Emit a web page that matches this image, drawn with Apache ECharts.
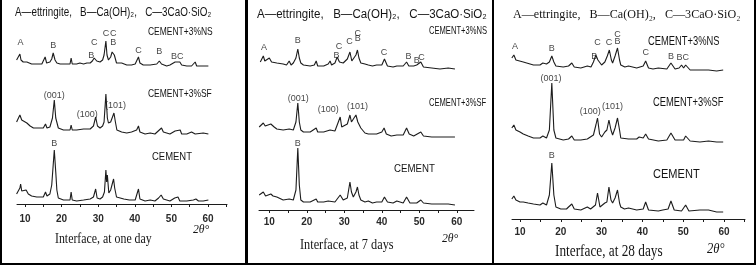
<!DOCTYPE html>
<html><head><meta charset="utf-8">
<script src="https://cdn.jsdelivr.net/npm/echarts@6/dist/echarts.min.js"></script>
<style>
html,body{margin:0;padding:0;background:#000;width:756px;height:265px;overflow:hidden}
.p{position:absolute;background:#fff;top:0;height:263px}
#c{position:absolute;left:0;top:0;width:756px;height:265px}
</style></head><body>
<div class="p" style="left:2px;width:243px"></div>
<div class="p" style="left:248px;width:244px"></div>
<div class="p" style="left:494px;width:260px"></div>
<div id="c"></div>
<script>
// ---------- tick values ----------
const tickValues = [10, 15, 20, 25, 30, 35, 40, 45, 50, 55, 60, 65];
const labelValues = [10, 20, 30, 40, 50, 60];

// ---------- Panel 1: one day  [2theta, intensity (stacked, a.u.)] ----------
const day1NS = [[7.7,144],[8.6,150],[8.9,144],[9.5,142],[10.5,142],[11.8,140],[13.2,140],[14.6,140],[15.1,141],[15.5,147],[15.9,141],[16.8,142],[17.3,145],[17.7,151],[18.2,144],[18.7,141],[19.6,140],[21.4,140],[22.3,140],[22.6,146],[22.9,140],[24.1,140],[25.0,141],[26.0,140],[26.9,141],[27.8,141],[28.4,143],[28.9,146],[29.1,148],[29.6,143],[30.5,142],[31.2,144],[31.6,149],[32.1,163],[32.4,149],[32.8,144],[33.4,147],[33.8,152],[34.1,154],[34.4,149],[35.0,141],[35.5,140],[36.4,141],[37.8,139],[39.1,139],[40.1,140],[40.6,142],[41.0,147],[41.4,141],[42.3,139],[44.2,139],[46.0,140],[46.7,143],[47.3,140],[48.7,138],[49.6,139],[51.0,142],[51.5,140],[52.3,142],[52.8,139],[54.2,138],[55.5,138],[56.5,142],[56.9,138],[58.7,138],[60.1,138]];
const day1SF = [[7.7,82],[8.6,89],[9.1,84],[10.5,81],[11.4,78],[12.3,76],[14.1,76],[15.0,76],[15.6,80],[16.0,76],[16.8,77],[17.5,86],[18.0,104],[18.4,86],[19.1,76],[20.5,74],[22.3,74],[22.6,79],[22.9,74],[24.1,74],[26.0,75],[27.8,75],[28.7,78],[29.3,87],[29.8,78],[30.5,76],[31.2,78],[31.6,82],[32.1,110],[32.5,86],[32.8,81],[33.4,82],[34.3,91],[34.7,82],[35.1,74],[36.4,72],[37.8,71],[39.1,72],[40.5,74],[41.0,78],[41.4,72],[42.8,70],[44.2,71],[45.5,70],[46.7,74],[47.3,76],[47.8,72],[49.6,70],[51.0,73],[51.5,71],[52.4,74],[52.8,70],[54.2,70],[55.5,72],[56.5,70],[58.7,71],[60.1,70]];
const day1CEM = [[7.7,10],[8.6,16],[8.8,20],[9.1,13],[9.6,11],[10.3,14],[10.9,10],[11.8,8],[13.2,7],[15.0,7],[15.6,12],[16.0,8],[16.8,10],[17.3,19],[17.7,39],[18.0,54],[18.4,32],[18.7,14],[19.1,6],[20.5,4],[22.3,4],[22.6,12],[22.9,4],[24.1,3],[26.0,4],[27.8,5],[28.7,7],[29.3,15],[29.7,6],[30.5,5],[31.2,7],[31.7,12],[32.1,34],[32.3,22],[32.5,29],[32.9,11],[33.4,14],[33.9,21],[34.2,25],[34.5,16],[35.0,7],[36.0,6],[36.5,8],[37.0,5],[38.5,4],[40.1,4],[40.6,6],[41.0,15],[41.4,5],[42.8,3],[44.2,4],[45.5,3],[46.5,6],[47.2,9],[47.8,5],[49.6,3],[50.9,6],[51.4,4],[51.8,7],[52.3,3],[54.2,3],[56.0,4],[56.7,5],[57.4,3],[58.7,3],[60.1,4]];
const day1Marks = [[8.8,161,'A'],[17.7,158,'B'],[28.9,161,'C'],[28.1,148,'B'],[32.1,170,'C'],[34.1,170,'C'],[34.1,161,'B'],[41.0,153,'C'],[46.7,152,'B'],[51.6,147,'BC'],[18.0,108,'(001)'],[27.0,89,'(100)'],[34.7,98,'(101)'],[18.0,60,'B']];

// ---------- Panel 2: 7 days ----------
const day7NS = [[7.6,148],[8.4,154],[8.8,149],[9.3,150],[10.0,152],[10.6,148],[12.0,147],[13.7,146],[14.6,145],[15.3,149],[15.8,145],[16.4,147],[17.1,152],[17.6,161],[18.0,152],[18.4,147],[19.1,145],[20.9,144],[22.0,145],[22.5,149],[22.9,144],[24.5,144],[25.7,146],[26.2,149],[26.6,145],[27.5,147],[28.1,153],[28.7,148],[29.7,147],[30.8,151],[31.5,158],[32.0,149],[32.4,148],[33.1,155],[33.5,160],[33.9,152],[34.4,147],[35.5,146],[36.4,145],[37.5,144],[38.6,145],[40.0,145],[40.7,151],[41.5,144],[43.0,143],[44.0,144],[45.7,144],[46.6,148],[47.2,144],[48.5,144],[49.3,145],[50.4,148],[51.1,143],[53.3,142],[55.5,141],[57.7,142],[59.5,141]];
const day7SF = [[7.3,83],[8.4,87],[8.9,84],[9.3,85],[10.4,86],[11.3,83],[12.0,81],[13.7,80],[15.3,81],[16.4,80],[17.1,88],[17.6,107],[18.0,88],[18.4,80],[19.1,78],[20.9,78],[22.5,82],[22.9,78],[24.5,78],[26.2,80],[27.5,79],[28.1,85],[28.9,93],[29.3,83],[29.7,82],[30.8,86],[31.5,95],[31.9,88],[32.4,87],[33.1,95],[33.6,88],[34.4,82],[35.5,77],[36.4,76],[38.6,76],[40.0,78],[40.6,82],[41.2,76],[42.5,74],[44.0,75],[45.7,75],[46.6,82],[47.3,76],[48.5,74],[50.4,78],[51.1,74],[53.3,73],[55.5,73],[57.7,73],[59.5,73]];
const day7CEM = [[7.3,15],[8.4,18],[9.0,14],[10.4,16],[11.0,14],[12.0,13],[13.7,10],[15.3,11],[16.4,10],[17.1,20],[17.6,62],[18.0,25],[18.4,10],[19.1,8],[20.9,8],[22.5,11],[22.9,8],[24.5,8],[25.7,9],[26.2,10],[27.5,8],[28.9,15],[29.7,10],[30.8,12],[31.5,28],[31.9,18],[32.4,13],[33.1,18],[33.5,23],[33.9,15],[34.4,10],[35.5,8],[36.4,9],[37.5,7],[38.6,8],[40.0,8],[40.7,13],[41.5,8],[43.0,7],[44.0,9],[45.7,7],[46.6,13],[47.5,7],[49.3,7],[50.4,10],[51.1,7],[53.3,6],[55.5,6],[57.7,6],[59.5,5]];
const day7Marks = [[8.6,162,'A'],[17.6,169,'B'],[27.9,154,'B'],[28.6,163,'C'],[31.4,168,'C'],[33.6,176,'C'],[33.6,171,'B'],[40.6,157,'C'],[47.1,153,'B'],[49.3,149,'B'],[50.6,152,'C'],[17.7,111,'(001)'],[25.7,100,'(100)'],[33.5,103,'(101)'],[17.6,66,'B']];

// ---------- Panel 3: 28 days ----------
const day28NS = [[8.0,161],[8.5,164],[9.0,159],[10.8,157],[13.3,154],[14.9,154],[15.6,156],[16.5,155],[17.2,157],[17.8,163],[18.3,157],[18.8,153],[20.6,152],[21.9,153],[22.7,156],[23.3,152],[24.9,151],[26.5,153],[27.4,152],[28.0,157],[28.6,164],[29.1,159],[30.0,154],[30.8,157],[31.4,163],[31.9,169],[32.4,159],[32.7,156],[33.3,163],[33.9,171],[34.4,159],[34.7,154],[35.7,152],[36.6,153],[38.6,151],[40.2,153],[40.8,158],[41.5,151],[42.6,150],[43.9,151],[46.0,150],[47.0,156],[48.0,150],[49.0,151],[49.6,154],[50.1,151],[50.6,154],[51.7,149],[54.1,149],[56.2,149],[58.2,148],[59.8,149]];
const day28SF = [[8.0,91],[8.5,94],[9.0,89],[10.0,87],[10.8,85],[12.0,83],[13.3,81],[14.9,81],[15.6,83],[16.5,81],[17.2,89],[17.8,136],[18.3,89],[18.8,81],[20.6,79],[21.9,80],[22.7,83],[23.3,79],[24.9,79],[26.5,80],[28.0,84],[28.6,94],[29.0,101],[29.5,85],[30.0,82],[30.8,87],[31.3,89],[31.8,99],[32.3,89],[32.7,84],[33.3,91],[33.9,101],[34.4,89],[34.7,81],[36.6,80],[38.6,80],[39.2,82],[40.2,81],[40.8,85],[41.5,80],[43.9,78],[46.0,79],[47.0,86],[48.0,79],[50.1,79],[50.6,83],[51.7,78],[54.1,77],[56.2,78],[58.2,77],[59.8,77]];
const day28CEM = [[8.0,20],[8.5,23],[9.0,19],[10.0,17],[10.8,17],[12.0,16],[13.3,15],[14.9,14],[15.6,16],[16.5,14],[17.2,24],[17.8,56],[18.3,24],[18.8,12],[20.0,10],[21.4,10],[21.9,12],[22.3,10],[22.7,15],[23.3,10],[24.9,9],[26.5,12],[27.3,10],[28.5,14],[29.0,26],[29.6,12],[30.0,13],[30.8,16],[31.3,17],[31.8,32],[32.3,19],[32.7,16],[33.3,21],[33.9,29],[34.4,16],[34.7,12],[35.6,10],[36.6,11],[38.6,9],[40.2,10],[40.8,17],[41.5,9],[43.9,8],[45.0,9],[46.3,10],[47.0,18],[47.8,9],[49.6,8],[50.6,14],[51.4,8],[54.1,9],[56.2,9],[58.2,7],[59.8,7]];
const day28Marks = [[8.8,172,'A'],[17.8,170,'B'],[28.2,162,'B'],[29.0,176,'C'],[31.8,176,'C'],[33.9,184,'C'],[33.9,177,'B'],[40.8,166,'C'],[47.0,162,'B'],[49.9,161,'BC'],[17.6,140,'(001)'],[27.2,107,'(100)'],[32.7,112,'(101)'],[17.8,63,'B']];

const panels = [
  {grid:{left:17, top:4, width:210, height:200}, min:7.81, max:65.19, margin:10, lines:[day1NS, day1SF, day1CEM], marks:day1Marks},
  {grid:{left:259, top:10, width:215, height:200}, min:7.25, max:64.58, margin:7, lines:[day7NS, day7SF, day7CEM], marks:day7Marks},
  {grid:{left:512, top:19, width:233, height:200}, min:8.04, max:65.15, margin:8, lines:[day28NS, day28SF, day28CEM], marks:day28Marks}
];

const ink = '#1c1c1c';
const grids = [], xAxes = [], yAxes = [], series = [];
panels.forEach((p, i) => {
  grids.push(p.grid);
  xAxes.push({type:'value', gridIndex:i, min:p.min, max:p.max,
    axisLine:{show:true, lineStyle:{color:ink, width:1}},
    axisTick:{show:true, customValues:tickValues, length:3, lineStyle:{color:ink}},
    axisLabel:{customValues:labelValues, margin:p.margin, fontSize:10, fontWeight:'bold',
      fontFamily:'"Liberation Sans Narrow", "Arial Narrow", "Liberation Sans", sans-serif', color:'#2a2a2a'},
    splitLine:{show:false}});
  yAxes.push({type:'value', gridIndex:i, min:0, max:200, show:false});
  p.lines.forEach(d => series.push({type:'line', xAxisIndex:i, yAxisIndex:i, data:d,
    showSymbol:false, symbol:'none', silent:true, clip:false,
    lineStyle:{color:ink, width:1.1}}));
  series.push({type:'scatter', xAxisIndex:i, yAxisIndex:i, symbolSize:1, silent:true,
    itemStyle:{color:'rgba(255,255,255,0)'},
    data:p.marks.map(m => ({value:[m[0], m[1]], name:m[2]})),
    label:{show:true, position:'inside', formatter:'{b}', fontSize:9,
      fontFamily:'"Liberation Sans Narrow", "Liberation Sans", sans-serif', color:'#111'}});
});

function txt(x, y, text, size, family, sx, extra) {
  return Object.assign({type:'text', x:x, y:y, scaleX:sx, silent:true,
    style:{text:text, fontSize:size, fontFamily:family, fill:'#141414', align:'left', verticalAlign:'middle'}}, extra || {});
}
const SANS = '"Liberation Sans", Arial, sans-serif';
const SERIF = '"Liberation Serif", "Times New Roman", serif';
const legendText = 'A\u2014ettringite,   B\u2014Ca(OH)\u2082,   C\u20143CaO\u00b7SiO\u2082';
const graphic = [
  txt(15, 13, legendText, 12, SANS, 0.82),
  txt(148, 32, 'CEMENT+3%NS', 11, SANS, 0.77),
  txt(148, 94, 'CEMENT+3%SF', 11, SANS, 0.77),
  txt(152, 157, 'CEMENT', 11, SANS, 0.86),
  txt(55, 239, 'Interface, at one day', 15, SERIF, 0.79),
  txt(193, 230, '2\u03b8\u00b0', 13, SERIF, 0.9),
  txt(257, 15, legendText, 12, SANS, 0.96),
  txt(429, 31, 'CEMENT+3%NS', 11, SANS, 0.69),
  txt(429, 103, 'CEMENT+3%SF', 11, SANS, 0.69),
  txt(394, 169, 'CEMENT', 11, SANS, 0.88),
  txt(300, 245, 'Interface, at 7 days', 15, SERIF, 0.82),
  txt(442, 239, '2\u03b8\u00b0', 13, SERIF, 0.9),
  txt(513, 15, legendText, 13, SERIF, 0.93),
  txt(648, 42, 'CEMENT+3%NS', 12, SANS, 0.78),
  txt(653, 103, 'CEMENT+3%SF', 12, SANS, 0.78),
  txt(653, 174, 'CEMENT', 13, SANS, 0.85),
  txt(555, 252, 'Interface, at 28 days', 16, SERIF, 0.83),
  txt(707, 249, '2\u03b8\u00b0', 14, SERIF, 0.9)
];
graphic.forEach(g => { if (g.style.text.indexOf('\u03b8') >= 0) g.style.fontStyle = 'italic'; });

const chart = echarts.init(document.getElementById('c'), null, {renderer:'canvas'});
chart.setOption({
  backgroundColor:'transparent', animation:false,
  grid:grids, xAxis:xAxes, yAxis:yAxes, series:series, graphic:graphic
});
</script></body></html>
